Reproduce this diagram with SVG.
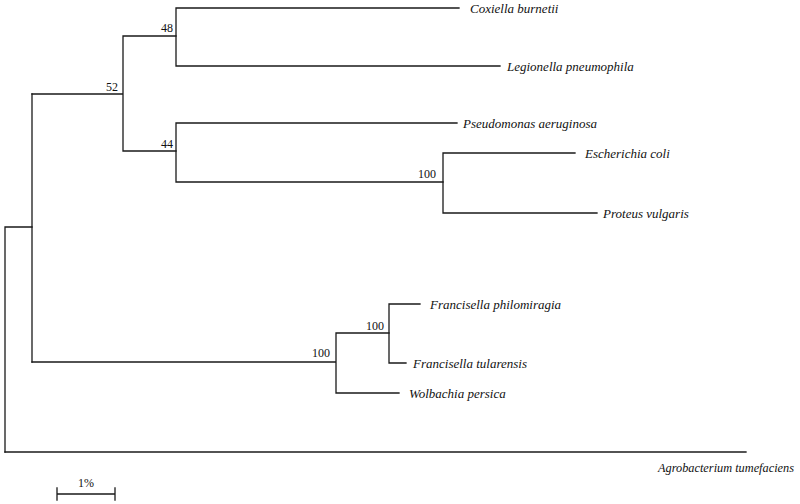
<svg xmlns="http://www.w3.org/2000/svg" width="800" height="504" viewBox="0 0 800 504">
<style>
.br{fill:none;stroke:#1a1a1a;stroke-width:1.3;stroke-linecap:square}
text{font-family:"Liberation Serif","Times New Roman","DejaVu Serif",serif;fill:#111}
.tx{font-style:italic;font-size:13px}
.bs{font-size:12px;text-anchor:end}
</style>
<rect width="800" height="504" fill="#fff"/>
<g id="connectors" class="br">
<path d="M5,452 V227 H32"/>
<path d="M32,94 V362"/>
<path d="M32,94 H123 M123,36 V151 M123,36 H176 M123,151 H176"/>
<path d="M176,8 V66 M176,8 H459 M176,66 H500"/>
<path d="M176,123 V182 M176,123 H457 M176,182 H443"/>
<path d="M443,153 V213 M443,153 H575 M443,213 H597"/>
<path d="M32,362 H336 M336,333 V393 M336,333 H389 M336,393 H399"/>
<path d="M389,304 V363 M389,304 H420 M389,363 H406"/>
<path d="M5,452 H746"/>
</g>
<g id="n52"><text class="bs" x="118" y="91">52</text></g>
<g id="n48"><text class="bs" x="173" y="32">48</text></g>
<g id="n44"><text class="bs" x="173" y="148">44</text></g>
<g id="n100a"><text class="bs" x="436" y="178">100</text></g>
<g id="n100b"><text class="bs" x="330" y="357">100</text></g>
<g id="n100c"><text class="bs" x="384" y="330">100</text></g>
<g id="coxiella"><text class="tx" x="470" y="13">Coxiella burnetii</text></g>
<g id="legionella"><text class="tx" x="507" y="71">Legionella pneumophila</text></g>
<g id="pseudomonas"><text class="tx" x="463" y="128">Pseudomonas aeruginosa</text></g>
<g id="ecoli"><text class="tx" x="585" y="158">Escherichia coli</text></g>
<g id="proteus"><text class="tx" x="603" y="218">Proteus vulgaris</text></g>
<g id="fphilo"><text class="tx" x="430" y="309">Francisella philomiragia</text></g>
<g id="ftula"><text class="tx" x="413" y="368">Francisella tularensis</text></g>
<g id="wolbachia"><text class="tx" x="409" y="398">Wolbachia persica</text></g>
<g id="agro"><text class="tx" x="658" y="472" textLength="136" lengthAdjust="spacingAndGlyphs">Agrobacterium tumefaciens</text></g>
<g id="scalebar">
<path class="br" d="M57,494 H115 M57,488 V500 M115,488 V500"/>
<text x="86" y="487" font-size="12" text-anchor="middle">1%</text>
</g>
</svg>
